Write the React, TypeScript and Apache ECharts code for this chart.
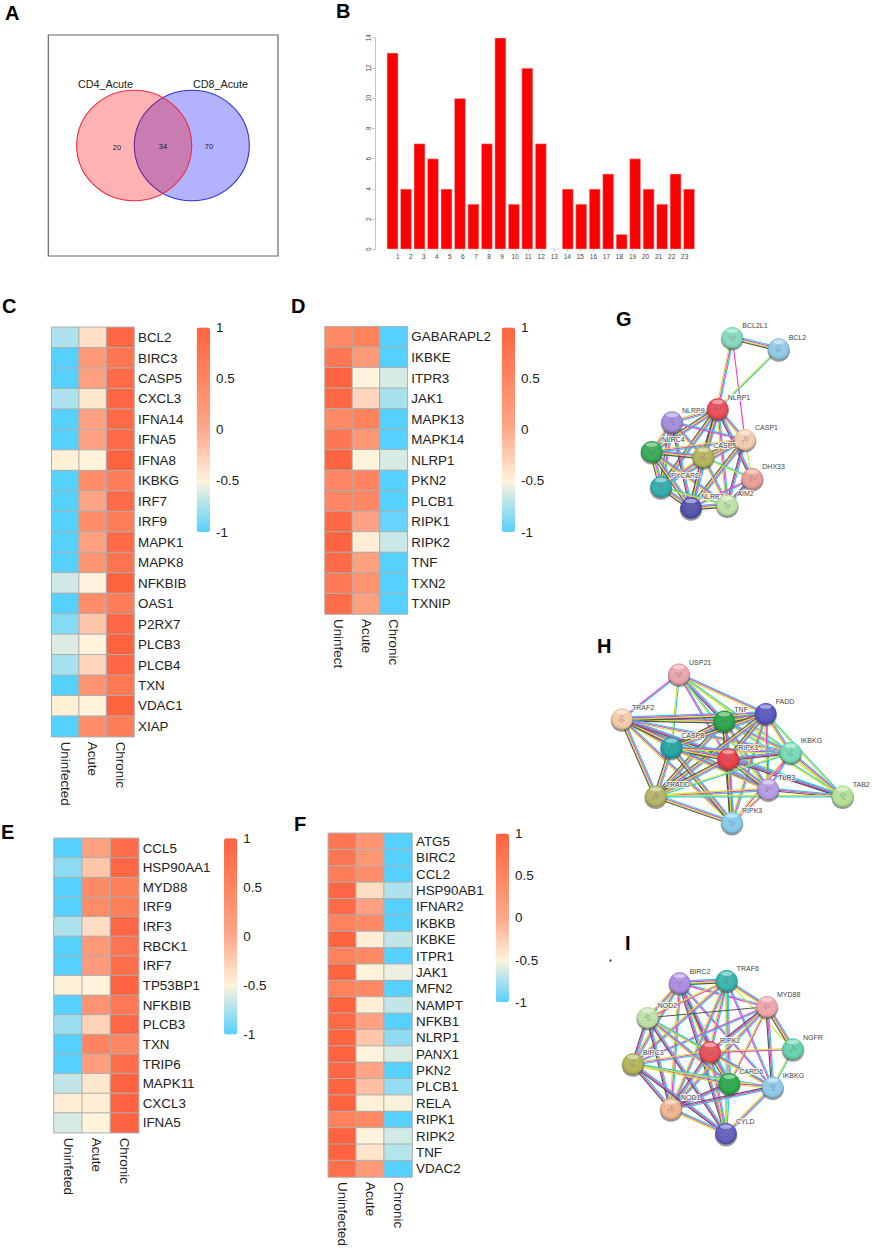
import { useEffect, useRef } from "react";
import * as echarts from "echarts";

const FONT = '"Liberation Sans", Arial, sans-serif';

// panel A
const vennNames = ["CD4_Acute", "CD8_Acute"];
const vennCounts = [20, 34, 70];

// panel B
const barCats = ["1","2","3","4","5","6","7","8","9","10","11","12","13","14","15","16","17","18","19","20","21","22","23"];
const barVals = [13,4,7,6,4,10,3,7,14,3,12,7,0,4,3,4,5,1,6,4,3,5,4];

// heatmaps: rows are [first, Acute, Chronic]
const cGenes = ["BCL2","BIRC3","CASP5","CXCL3","IFNA14","IFNA5","IFNA8","IKBKG","IRF7","IRF9","MAPK1","MAPK8","NFKBIB","OAS1","P2RX7","PLCB3","PLCB4","TXN","VDAC1","XIAP"];
const cVals = [[-0.74,-0.38,0.95],[-1,0.22,0.72],[-1,0.12,0.88],[-0.74,-0.42,0.96],[-1,0.1,0.9],[-1,0.1,0.9],[-0.48,-0.5,1],[-1,0.38,0.62],[-1,0.04,0.88],[-1,0.38,0.62],[-1,0.12,0.88],[-1,0.28,0.75],[-0.64,-0.5,1],[-1,0.38,0.62],[-0.86,-0.2,0.95],[-0.6,-0.5,1],[-0.76,-0.3,0.95],[-1,0.3,0.7],[-0.48,-0.5,1],[-1,0.38,0.62]];
const cCols = ["Uninfected","Acute","Chronic"];

const dGenes = ["GABARAPL2","IKBKE","ITPR3","JAK1","MAPK13","MAPK14","NLRP1","PKN2","PLCB1","RIPK1","RIPK2","TNF","TXN2","TXNIP"];
const dVals = [[0.45,0.55,-1],[0.72,0.2,-1],[1,-0.5,-0.62],[0.95,-0.3,-0.76],[0.45,0.55,-1],[0.72,0.25,-1],[1,-0.5,-0.62],[0.48,0.52,-1],[0.48,0.48,-1],[0.92,0.08,-0.95],[1,-0.46,-0.66],[0.88,0.12,-1],[0.68,0.32,-1],[0.85,0.12,-1]];
const dCols = ["Uninfect","Acute","Chronic"];

const eGenes = ["CCL5","HSP90AA1","MYD88","IRF9","IRF3","RBCK1","IRF7","TP53BP1","NFKBIB","PLCB3","TXN","TRIP6","MAPK11","CXCL3","IFNA5"];
const eVals = [[-1,0.12,0.85],[-0.84,-0.2,0.95],[-1,0.42,0.58],[-1,0.4,0.6],[-0.75,-0.35,0.95],[-1,0.22,0.75],[-1,0.18,0.82],[-0.48,-0.5,1],[-1,0.3,0.7],[-0.8,-0.28,0.95],[-1,0.52,0.48],[-1,0.15,0.85],[-0.68,-0.42,1],[-0.46,-0.46,1],[-0.62,-0.5,1]];
const eCols = ["Uninfeted","Acute","Chronic"];

const fGenes = ["ATG5","BIRC2","CCL2","HSP90AB1","IFNAR2","IKBKB","IKBKE","ITPR1","JAK1","MFN2","NAMPT","NFKB1","NLRP1","PANX1","PKN2","PLCB1","RELA","RIPK1","RIPK2","TNF","VDAC2"];
const fVals = [[0.72,0.28,-1],[0.72,0.25,-1],[0.62,0.38,-1],[0.95,-0.35,-0.74],[0.88,0.12,-1],[0.55,0.45,-1],[1,-0.46,-0.68],[0.55,0.45,-1],[1,-0.5,-0.55],[0.55,0.45,-1],[1,-0.46,-0.68],[0.9,0.1,-1],[0.98,-0.2,-0.84],[1,-0.5,-0.6],[0.95,0.05,-1],[0.98,-0.15,-0.82],[1,-0.48,-0.52],[0.55,0.45,-1],[1,-0.5,-0.64],[1,-0.4,-0.72],[0.8,0.2,-1]];
const fCols = ["Uninfected","Acute","Chronic"];

const heatColors = ["#56d0ff", "#fff3db", "#ffa88a", "#ff8560", "#ff6340"];

// networks, node = [name, x, y, colour]
type Node = [string, number, number, string];
const gNodes: Node[] = [
  ["BCL2L1",732.3,337.7,"#7fd8b8"],["BCL2",778.7,349,"#8cc8e8"],["NLRP1",717.7,409,"#e8434f"],
  ["NLRP9",672,422,"#a088d8"],["CASP1",745,439.7,"#f0c8a8"],["NLRC4",651.7,451.7,"#2ea84e"],
  ["CASP5",703.3,457,"#b0b050"],["DHX33",752.3,478.7,"#e89a90"],["PYCARD",661,487,"#2aa8a8"],
  ["NLRP3",691,508,"#4a4aa8"],["AIM2",727.3,505.3,"#b8e0a0"],
];
const hNodes: Node[] = [
  ["USP21",679,674.3,"#e8a0a8"],["TRAF2",622,719,"#f0c8a0"],["TNF",724.3,721.3,"#20a040"],
  ["FADD",765.7,713.7,"#5050c0"],["CASP8",671.3,747.7,"#18a0a0"],["RIPK1",728.3,759,"#e83840"],
  ["IKBKG",790.7,752.7,"#70d8b0"],["TLR3",768.3,789.3,"#b098e0"],["TAB2",842.7,796.3,"#b0e090"],
  ["TRADD",655.7,796.3,"#b0b060"],["RIPK3",732,822.7,"#80c8e8"],
];
const iNodes: Node[] = [
  ["BIRC2",679.7,983,"#a888e0"],["TRAF6",726.7,980.7,"#30b0a8"],["MYD88",767,1006.7,"#f0a0a8"],
  ["NOD2",647.7,1017.7,"#b8e0a0"],["NGFR",793,1049,"#60d0a8"],["RIPK2",710,1052,"#e84850"],
  ["BIRC3",633,1064,"#b0b050"],["CARD6",729.3,1083.7,"#20a840"],["IKBKG",772.7,1087.3,"#88c8e8"],
  ["NOD1",671,1109,"#f0b088"],["CYLD",726,1133.7,"#5858b8"],
];

// links: [from, "to to:strands"], strands default to cmy
const gLinks: [string, string][] = [
  ["BCL2L1","BCL2:cmyk NLRP1:cmy CASP1:m"],
  ["BCL2","NLRP1:cy"],
  ["NLRP1","NLRP9 CASP1 NLRC4:cmyk CASP5:cmyk DHX33:cmk PYCARD:cmyk NLRP3:cmyk AIM2"],
  ["NLRP9","CASP1:cm NLRC4 CASP5 PYCARD:cmyk NLRP3:cmk"],
  ["CASP1","NLRC4 CASP5:cmyk DHX33:y PYCARD NLRP3:cmyk AIM2:cmk"],
  ["NLRC4","CASP5:cmyk PYCARD:cmyk NLRP3:cmyk AIM2"],
  ["CASP5","DHX33:cy PYCARD NLRP3:cmyk AIM2"],
  ["DHX33","AIM2:cmk NLRP3:cm"],
  ["PYCARD","NLRP3:cmyk AIM2:cy"],
  ["NLRP3","AIM2:cmyk"],
];
const hLinks: [string, string][] = [
  ["USP21","TRAF2:cm CASP8:cy TNF:cmk FADD:cmy RIPK1:cm IKBKG:cy TLR3:cy TAB2:y"],
  ["TRAF2","TNF:cmyk FADD:cmyk CASP8:cmy RIPK1:cmyk IKBKG:cmy TLR3:cmyk TAB2:cmk TRADD:cmyk RIPK3:cmy"],
  ["TNF","FADD:cmyk CASP8:cmyk RIPK1:cmyk IKBKG:cmy TLR3:cmy TAB2:cy TRADD:cmyk RIPK3:cmyk"],
  ["FADD","CASP8:cmyk RIPK1:cmyk IKBKG:cmy TLR3:cmy TAB2:cy TRADD:cmyk RIPK3:cmy"],
  ["CASP8","RIPK1:cmyk IKBKG:cmy TLR3:cmy TRADD:cmyk RIPK3:cmyk"],
  ["RIPK1","IKBKG:cmk TLR3:cmyk TAB2:cmk TRADD:cmyk RIPK3:cmyk"],
  ["IKBKG","TLR3:cm TAB2:cmy TRADD:cy RIPK3:my"],
  ["TLR3","TAB2:cmk TRADD:cmy RIPK3:my"],
  ["TAB2","TRADD:cy"],
  ["TRADD","RIPK3:cmyk"],
];
const iLinks: [string, string][] = [
  ["BIRC2","TRAF6:cmyk MYD88:cm NOD2:cmy BIRC3:cmy RIPK2:cmy CARD6:cmk IKBKG:cm NOD1:cmy CYLD:cmk"],
  ["TRAF6","MYD88:cmy NOD2:my NGFR:y BIRC3:cmy RIPK2:cmy CARD6:cmy IKBKG:cm NOD1:cmy CYLD:cy"],
  ["MYD88","NOD2:k NGFR:cmyk BIRC3:cm RIPK2:cmk IKBKG:cmk NOD1:cmy CARD6:my"],
  ["NOD2","BIRC3:cmk RIPK2:cm CARD6:cmy NOD1:cmk CYLD:cmk IKBKG:cy"],
  ["NGFR","RIPK2:my IKBKG:cy"],
  ["RIPK2","BIRC3:cmy CARD6:cmyk IKBKG:cmy NOD1:cmk CYLD:cmy"],
  ["BIRC3","CARD6:cmy NOD1:cmk CYLD:cmk IKBKG:cy"],
  ["CARD6","IKBKG:my NOD1:cmk CYLD:cy"],
  ["IKBKG","NOD1:cmk CYLD:cmy"],
  ["NOD1","CYLD:cmy"],
];

const strandColor: Record<string, string> = { c: "#2fc8e6", m: "#f23ed0", y: "#cde62e", k: "#555555" };

const letters: [string, number, number][] = [
  ["A",5,3],["B",336,1],["C",2,296],["D",291,296],["E",1,822],["F",294,814],["G",616,309],["H",597,636],["I",625,933],
];

const buildEdges = (nodes: Node[], links: [string, string][]) => {
  const at = (n: string) => nodes.find((d) => d[0] === n)!;
  const out: { from: Node; to: Node; strands: string }[] = [];
  for (const [a, list] of links) {
    for (const t of list.split(" ")) {
      const [b, s = "cmy"] = t.split(":");
      out.push({ from: at(a), to: at(b), strands: s });
    }
  }
  return out;
};

const networkSeries = (nodes: Node[], links: [string, string][]) => {
  const edges = buildEdges(nodes, links);
  return [
    {
      type: "custom", xAxisIndex: 0, yAxisIndex: 0, silent: true, z: 2,
      encode: { x: 0, y: 1 },
      data: edges.map((e) => [e.from[1], e.from[2], e.to[1], e.to[2]]),
      renderItem: (p: any, api: any) => {
        const e = edges[p.dataIndex];
        const a = api.coord([e.from[1], e.from[2]]);
        const b = api.coord([e.to[1], e.to[2]]);
        const dx = b[0] - a[0], dy = b[1] - a[1];
        const len = Math.hypot(dx, dy) || 1;
        const nx = -dy / len, ny = dx / len;
        const n = e.strands.length;
        return {
          type: "group",
          children: e.strands.split("").map((s, i) => {
            const off = (i - (n - 1) / 2) * 1.25;
            return {
              type: "line",
              shape: { x1: a[0] + nx * off, y1: a[1] + ny * off, x2: b[0] + nx * off, y2: b[1] + ny * off },
              style: { stroke: strandColor[s], lineWidth: 1.15 },
            };
          }),
        };
      },
    },
    {
      type: "custom", xAxisIndex: 0, yAxisIndex: 0, silent: true, z: 3,
      encode: { x: 0, y: 1 },
      data: nodes.map((d) => [d[1], d[2]]),
      renderItem: (p: any, api: any) => {
        const d = nodes[p.dataIndex];
        const [x, y] = api.coord([d[1], d[2]]);
        const r = 10.7;
        const rot = p.dataIndex * 1.3;
        const sq = [[-4,1],[-2,-2],[0,1],[2,-2],[3,1],[1,3],[-2,2]].map(([u, v]) => [
          x + u * Math.cos(rot) - v * Math.sin(rot),
          y + u * Math.sin(rot) + v * Math.cos(rot),
        ]);
        return {
          type: "group",
          children: [
            { type: "circle", shape: { cx: x, cy: y + 1.5, r: r + 0.6 }, style: { fill: "rgba(70,70,70,0.55)" } },
            { type: "circle", shape: { cx: x, cy: y, r }, style: { fill: d[3] } },
            { type: "polyline", shape: { points: sq }, style: { stroke: "rgba(50,30,80,0.28)", lineWidth: 1, fill: "none" } },
            {
              type: "circle", shape: { cx: x, cy: y, r },
              style: {
                fill: new echarts.graphic.RadialGradient(0.5, 0.45, 0.55, [
                  { offset: 0, color: "rgba(255,255,255,0.16)" },
                  { offset: 0.7, color: "rgba(255,255,255,0.05)" },
                  { offset: 0.88, color: "rgba(0,0,0,0.04)" },
                  { offset: 1, color: "rgba(0,0,0,0.3)" },
                ]),
              },
            },
            { type: "ellipse", shape: { cx: x, cy: y - r * 0.66, rx: r * 0.55, ry: r * 0.2 }, style: { fill: "rgba(255,255,255,0.45)" } },
            {
              type: "text", x: x + 10, y: y - 12,
              style: {
                text: d[0], fill: "#444", fontFamily: FONT, fontSize: 7, align: "left", verticalAlign: "middle",
                stroke: "rgba(255,255,255,0.8)", lineWidth: 2,
              },
            },
          ],
        };
      },
    },
  ];
};

const panels = [
  { genes: cGenes, vals: cVals, cols: cCols, x: 51.7, y: 327.3, w: 82.3, h: 409.4, bx: 196.7, by: 327.5, bh: 204.5 },
  { genes: dGenes, vals: dVals, cols: dCols, x: 325, y: 326.7, w: 82.3, h: 287.3, bx: 501.7, by: 327.5, bh: 204.5 },
  { genes: eGenes, vals: eVals, cols: eCols, x: 54, y: 838.3, w: 84.7, h: 294.4, bx: 224, by: 838.3, bh: 196.2 },
  { genes: fGenes, vals: fVals, cols: fCols, x: 328.3, y: 833.3, w: 83.7, h: 355, bx: 495.7, by: 833.5, bh: 168.8 },
];

const buildOption = () => {
  const grid: any[] = [
    { left: 0, top: 0, width: 872, height: 1249 },
    { left: 385.8, top: 37.7, width: 310, height: 211.6 },
  ];
  const xAxis: any[] = [
    { gridIndex: 0, type: "value", min: 0, max: 872, show: false },
    { gridIndex: 1, type: "category", data: barCats, show: false, position: "top" },
    {
      gridIndex: 1, type: "value", min: 0.088, max: 23.85, position: "bottom", splitLine: { show: false },
      axisLine: { show: false },
      axisTick: { customValues: barCats.map(Number), length: 2, lineStyle: { color: "#999", width: 0.6 } },
      axisLabel: { customValues: barCats.map(Number), fontSize: 6.5, color: "#444", margin: 4, fontFamily: FONT },
    },
  ];
  const yAxis: any[] = [
    { gridIndex: 0, type: "value", min: 0, max: 1249, inverse: true, show: false },
    {
      gridIndex: 1, type: "value", min: 0, max: 14, interval: 2, offset: 11, splitLine: { show: false },
      axisLine: { show: true, lineStyle: { color: "#aaa", width: 0.7 } },
      axisTick: { show: true, length: 2.5, lineStyle: { color: "#aaa", width: 0.7 } },
      axisLabel: { rotate: 90, fontSize: 6.5, color: "#444", margin: 3, fontFamily: FONT },
    },
  ];
  const series: any[] = [];
  const visualMap: any[] = [];

  panels.forEach((p) => {
    const g = grid.length;
    grid.push({ left: p.x, top: p.y, width: p.w, height: p.h });
    const ax = xAxis.length;
    xAxis.push({
      gridIndex: g, type: "category", data: p.cols, position: "bottom",
      axisLine: { show: false }, axisTick: { show: false }, splitLine: { show: false },
      axisLabel: { rotate: -90, fontSize: 13.4, color: "#222", margin: 5, fontFamily: FONT, interval: 0 },
    });
    const ay = yAxis.length;
    yAxis.push({
      gridIndex: g, type: "category", data: p.genes, inverse: true, position: "right",
      axisLine: { show: false }, axisTick: { show: false }, splitLine: { show: false },
      axisLabel: { fontSize: 13.4, color: "#222", margin: 4, fontFamily: FONT, interval: 0 },
    });
    visualMap.push({
      type: "continuous", min: -1, max: 1, seriesIndex: series.length, left: p.bx, top: p.by,
      itemWidth: 13.3, itemHeight: p.bh, padding: 0, calculable: false, hoverLink: false,
      inRange: { color: heatColors }, text: ["", ""],
    });
    series.push({
      type: "heatmap", xAxisIndex: ax, yAxisIndex: ay, silent: true,
      data: p.vals.flatMap((row, r) => row.map((v, c) => [c, r, v])),
      itemStyle: { borderColor: "#aeaeae", borderWidth: 1 },
    });
    // colour-bar scale, the bar itself comes from the visualMap above
    const bg = grid.length;
    grid.push({ left: p.bx, top: p.by, width: 13.3, height: p.bh });
    xAxis.push({ gridIndex: bg, type: "value", show: false });
    yAxis.push({
      gridIndex: bg, type: "value", min: -1, max: 1, interval: 0.5, position: "right",
      axisLine: { show: false }, axisTick: { show: false }, splitLine: { show: false },
      axisLabel: { fontSize: 13.4, color: "#222", margin: 6, fontFamily: FONT },
    });
  });

  series.push({
    type: "bar", xAxisIndex: 1, yAxisIndex: 1, barCategoryGap: "15%", silent: true, barMinHeight: 0.6,
    data: barVals.map((v) => (v === 0 ? { value: 0, itemStyle: { color: "#c4c4c4", borderWidth: 0 } } : v)),
    itemStyle: { color: "#ff0000", borderColor: "#e6c8c8", borderWidth: 0.5 },
  });
  series.push(...networkSeries(gNodes, gLinks), ...networkSeries(hNodes, hLinks), ...networkSeries(iNodes, iLinks));

  const vennCircle = (cx: number, fill: string, stroke: string) => ({
    type: "ellipse", shape: { cx, cy: 145.5, rx: 57.5, ry: 55.3 }, style: { fill, stroke, lineWidth: 1.1 },
  });
  const vennText = (x: number, y: number, text: string | number, fontSize: number) => ({
    type: "text", x, y, z: 5,
    style: { text: String(text), fontSize, fontFamily: FONT, fill: "#222", align: "center", verticalAlign: "middle" },
  });
  const graphic: any[] = [
    { type: "rect", shape: { x: 48.3, y: 35, width: 229.7, height: 221 }, style: { fill: "none", stroke: "#666", lineWidth: 1.2 } },
    vennCircle(191.8, "rgba(0,0,255,0.3)", "#3030e6"),
    vennCircle(134.2, "rgba(255,0,0,0.3)", "#f02a40"),
    vennText(105.5, 83.5, vennNames[0], 10.8),
    vennText(220.5, 83.5, vennNames[1], 10.8),
    vennText(117, 147, vennCounts[0], 7.5),
    vennText(163, 146, vennCounts[1], 7.5),
    vennText(209, 146.5, vennCounts[2], 7.5),
    { type: "circle", shape: { cx: 610.5, cy: 960.5, r: 1 }, style: { fill: "#222" } },
    ...letters.map(([t, x, y]) => ({
      type: "text", x, y,
      style: { text: t, fontSize: 20, fontWeight: "bold", fontFamily: FONT, fill: "#000", align: "left", verticalAlign: "top" },
    })),
  ];

  return { animation: false, backgroundColor: "#fff", grid, xAxis, yAxis, series, visualMap, graphic };
};

export default function App() {
  const ref = useRef<HTMLDivElement>(null);
  useEffect(() => {
    if (!ref.current) return;
    const chart = echarts.init(ref.current, undefined, { renderer: "svg" });
    chart.setOption(buildOption() as any);
    return () => chart.dispose();
  }, []);
  return <div ref={ref} style={{ position: "absolute", left: 0, top: 0, width: 872, height: 1249 }} />;
}
